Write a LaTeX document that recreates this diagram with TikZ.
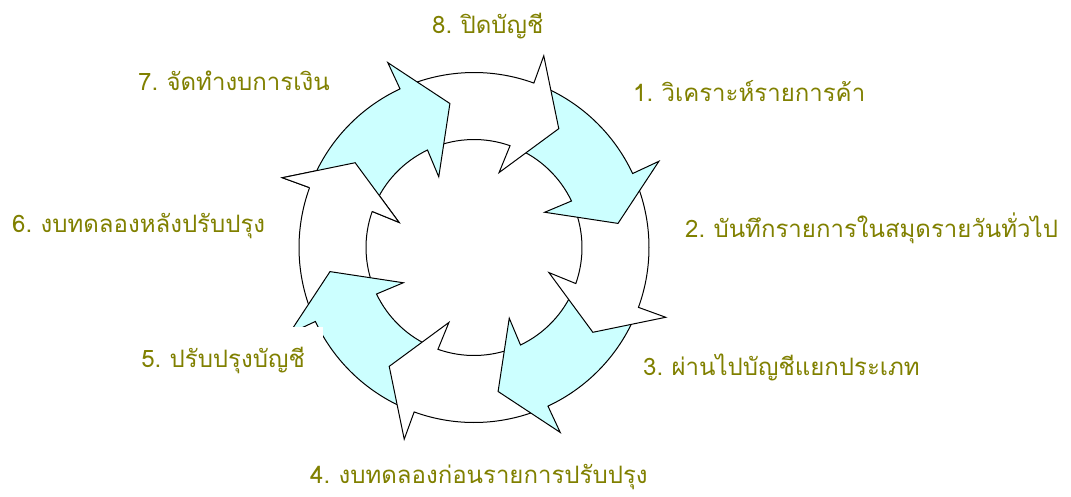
\documentclass[tikz,border=0pt]{standalone}
\usepackage{fontspec}
\newfontfamily\thaifont[Script=Thai, WordSpace=0.7]{Loma}
\usetikzlibrary{positioning}
\definecolor{lblolive}{RGB}{128,128,0}
\definecolor{ringcyan}{RGB}{204,255,255}
\tikzset{
    lbl/.style={text=lblolive, font=\thaifont\fontsize{24}{29}\selectfont, inner sep=0pt, anchor=base west},
    ringarrow/.style={draw=black, line width=1pt, line join=miter}
}

\begin{document}
\begin{tikzpicture}[x=1pt, y=1pt]
    \useasboundingbox (0,0) rectangle (1071,-496);

    % Arrows, drawn backwards so each head lies over the next tail
    \begin{scope}[shift={(474,-247.5)}]
        \foreach \k/\col in {7/white,6/ringcyan,5/white,4/ringcyan,3/white,2/ringcyan,1/white,0/ringcyan} {
            \pgfmathsetmacro{\t}{99.5-45*\k}
            \filldraw[ringarrow, fill=\col] (\t+58:175) arc[start angle=\t+58, end angle=\t+15.5, radius=175]
                -- (\t+15.5:204) -- (\t:146) -- (\t+17:79) -- (\t+16:108)
                arc[start angle=\t+16, end angle=\t+58, radius=108] -- cycle;
        }
        % head of the last arrow again, over the tail of the first
        \pgfmathsetmacro{\t}{99.5-45*7}
        \fill[white] (\t+15.5:175) -- (\t+15.5:204) -- (\t:146) -- (\t+17:79) -- (\t+16:108) -- cycle;
        \draw[ringarrow] (\t+15.5:175) -- (\t+15.5:204) -- (\t:146) -- (\t+17:79) -- (\t+16:108);
    \end{scope}

    % Labels
    \node[lbl] (lbl8) at (432,-33) {8. ปิดบัญชี};
    \node[lbl] (lbl1) at (633,-101) {1. วิเคราะห์รายการค้า};
    \node[lbl] (lbl2) at (685,-237) {2. บันทึกรายการในสมุดรายวันทั่วไป};
    \node[lbl] (lbl3) at (643,-375) {3. ผ่านไปบัญชีแยกประเภท};
    \node[lbl] (lbl4) at (310,-483) {4. งบทดลองก่อนรายการปรับปรุง};
    \node[lbl, fill=white, anchor=north east, inner xsep=18pt, text height=40pt, text depth=12pt] (lbl5) at (323,-327) {5. ปรับปรุงบัญชี};
    \node[lbl] (lbl6) at (12,-232) {6. งบทดลองหลังปรับปรุง};
    \node[lbl] (lbl7) at (138,-90) {7. จัดทำงบการเงิน};
\end{tikzpicture}
\end{document}
